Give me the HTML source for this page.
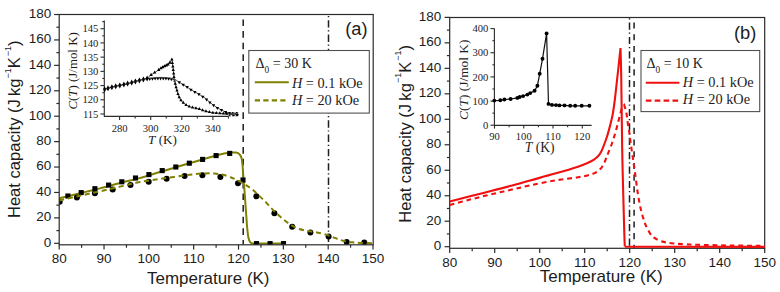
<!DOCTYPE html>
<html><head><meta charset="utf-8"><title>Heat capacity</title>
<style>html,body{margin:0;padding:0;background:#fff;overflow:hidden}svg{display:block}</style></head>
<body><svg width="780" height="292" viewBox="0 0 780 292">
<rect width="780" height="292" fill="#fff"/>
<defs><clipPath id="ca"><rect x="59.2" y="14.5" width="314" height="230.3"/></clipPath><clipPath id="cb"><rect x="449.7" y="17.5" width="315" height="230.8"/></clipPath></defs>
<line x1="243.2" y1="14.5" x2="243.2" y2="244.8" stroke="#1e1e1e" stroke-width="1.5" stroke-dasharray="6.6 5" stroke-dashoffset="6.6"/>
<line x1="328.5" y1="14.5" x2="328.5" y2="244.8" stroke="#1e1e1e" stroke-width="1.5" stroke-dasharray="7.4 2.7 1.2 3" stroke-dashoffset="8.6"/>
<g clip-path="url(#ca)">
<path d="M59.2,198.2 C62.67,197.38 73.2,194.93 80,193.3 C86.8,191.67 93.33,190.12 100,188.4 C106.67,186.68 113.58,184.67 120,183 C126.42,181.33 131.83,180.23 138.5,178.4 C145.17,176.57 153.08,174.07 160,172 C166.92,169.93 173.33,167.97 180,166 C186.67,164.03 194.25,161.87 200,160.2 C205.75,158.53 210.5,157.1 214.5,156 C218.5,154.9 221.25,154.17 224,153.6 C226.75,153.03 228.98,152.77 231,152.6 C233.02,152.43 234.68,152.32 236.1,152.6 C237.52,152.88 238.6,153.4 239.5,154.3 C240.4,155.2 240.98,156.05 241.5,158 C242.02,159.95 242.3,163 242.6,166 C242.9,169 243.02,172.33 243.3,176 C243.58,179.67 243.97,183.67 244.3,188 C244.63,192.33 244.97,197.33 245.3,202 C245.63,206.67 245.98,211.67 246.3,216 C246.62,220.33 246.85,224.42 247.2,228 C247.55,231.58 247.9,235.13 248.4,237.5 C248.9,239.87 249.52,241.22 250.2,242.2 C250.88,243.18 251.53,243.18 252.5,243.4 C253.47,243.62 250.83,243.48 256,243.5 C261.17,243.52 278.92,243.5 283.5,243.5" fill="none" stroke="#808000" stroke-width="2"/>
<rect x="65.35" y="193.45" width="5.1" height="5.1" fill="#000"/>
<rect x="78.65" y="190.05" width="5.1" height="5.1" fill="#000"/>
<rect x="92.35" y="186.15" width="5.1" height="5.1" fill="#000"/>
<rect x="106.05" y="182.55" width="5.1" height="5.1" fill="#000"/>
<rect x="119.25" y="179.25" width="5.1" height="5.1" fill="#000"/>
<rect x="132.95" y="175.45" width="5.1" height="5.1" fill="#000"/>
<rect x="146.35" y="172.05" width="5.1" height="5.1" fill="#000"/>
<rect x="159.65" y="168.05" width="5.1" height="5.1" fill="#000"/>
<rect x="173.25" y="164.45" width="5.1" height="5.1" fill="#000"/>
<rect x="186.75" y="160.65" width="5.1" height="5.1" fill="#000"/>
<rect x="200.05" y="156.85" width="5.1" height="5.1" fill="#000"/>
<rect x="213.55" y="153.05" width="5.1" height="5.1" fill="#000"/>
<rect x="227.15" y="150.85" width="5.1" height="5.1" fill="#000"/>
<rect x="240.45" y="177.45" width="5.1" height="5.1" fill="#000"/>
<rect x="253.95" y="241.05" width="5.1" height="5.1" fill="#000"/>
<rect x="267.55" y="241.05" width="5.1" height="5.1" fill="#000"/>
<rect x="280.95" y="241.05" width="5.1" height="5.1" fill="#000"/>
<circle cx="59.7" cy="201.8" r="3.0" fill="#000"/>
<circle cx="76.9" cy="197.5" r="3.0" fill="#000"/>
<circle cx="94.9" cy="193.3" r="3.0" fill="#000"/>
<circle cx="112.7" cy="189.5" r="3.0" fill="#000"/>
<circle cx="130.5" cy="185.1" r="3.0" fill="#000"/>
<circle cx="148.7" cy="181.8" r="3.0" fill="#000"/>
<circle cx="166.6" cy="178.7" r="3.0" fill="#000"/>
<circle cx="184.6" cy="176.1" r="3.0" fill="#000"/>
<circle cx="202.4" cy="175.3" r="3.0" fill="#000"/>
<circle cx="220.4" cy="177" r="3.0" fill="#000"/>
<circle cx="238" cy="183.3" r="3.0" fill="#000"/>
<circle cx="256.4" cy="196.3" r="3.0" fill="#000"/>
<circle cx="274.4" cy="213.3" r="3.0" fill="#000"/>
<circle cx="292.2" cy="226.7" r="3.0" fill="#000"/>
<circle cx="310.4" cy="232.5" r="3.0" fill="#000"/>
<circle cx="328.6" cy="236.4" r="3.0" fill="#000"/>
<circle cx="346.7" cy="241.9" r="3.0" fill="#000"/>
<circle cx="364.3" cy="242.4" r="3.0" fill="#000"/>
<path d="M59.2,200.4 C62.67,199.62 73.2,197.22 80,195.7 C86.8,194.18 93.33,192.82 100,191.3 C106.67,189.78 113.58,188.1 120,186.6 C126.42,185.1 131.43,183.63 138.5,182.3 C145.57,180.97 153.85,179.87 162.4,178.6 C170.95,177.33 182.7,175.57 189.8,174.7 C196.9,173.83 200.88,173.6 205,173.4 C209.12,173.2 211.67,173.3 214.5,173.5 C217.33,173.7 219.42,174.02 222,174.6 C224.58,175.18 227,175.83 230,177 C233,178.17 236.67,179.82 240,181.6 C243.33,183.38 247.3,185.8 250,187.7 C252.7,189.6 253.63,190.65 256.2,193 C258.77,195.35 262.5,198.87 265.4,201.8 C268.3,204.73 270.68,207.73 273.6,210.6 C276.52,213.47 279.98,216.6 282.9,219 C285.82,221.4 288.37,223.33 291.1,225 C293.83,226.67 296.52,228.02 299.3,229 C302.08,229.98 305.02,230.35 307.8,230.9 C310.58,231.45 312.97,231.68 316,232.3 C319.03,232.92 322.88,233.67 326,234.6 C329.12,235.53 331.87,236.87 334.7,237.9 C337.53,238.93 340.12,240.07 343,240.8 C345.88,241.53 349,241.95 352,242.3 C355,242.65 357.5,242.73 361,242.9 C364.5,243.07 371,243.23 373,243.3" fill="none" stroke="#808000" stroke-width="2" stroke-dasharray="5.1 3.6"/>
</g>
<g font-family="Liberation Sans, sans-serif" font-size="13.5" fill="#1c1c1c">
<rect x="59.2" y="14.5" width="314" height="230.3" fill="none" stroke="#2b2b2b" stroke-width="1.2"/>
<line x1="54.1" y1="243.3" x2="59.2" y2="243.3" stroke="#2b2b2b" stroke-width="1.2"/>
<text x="51.2" y="246.6" text-anchor="end">0</text>
<line x1="56.4" y1="230.59" x2="59.2" y2="230.59" stroke="#2b2b2b" stroke-width="1.2"/>
<line x1="54.1" y1="217.88" x2="59.2" y2="217.88" stroke="#2b2b2b" stroke-width="1.2"/>
<text x="51.2" y="221.18" text-anchor="end">20</text>
<line x1="56.4" y1="205.17" x2="59.2" y2="205.17" stroke="#2b2b2b" stroke-width="1.2"/>
<line x1="54.1" y1="192.46" x2="59.2" y2="192.46" stroke="#2b2b2b" stroke-width="1.2"/>
<text x="51.2" y="195.76" text-anchor="end">40</text>
<line x1="56.4" y1="179.75" x2="59.2" y2="179.75" stroke="#2b2b2b" stroke-width="1.2"/>
<line x1="54.1" y1="167.04" x2="59.2" y2="167.04" stroke="#2b2b2b" stroke-width="1.2"/>
<text x="51.2" y="170.34" text-anchor="end">60</text>
<line x1="56.4" y1="154.33" x2="59.2" y2="154.33" stroke="#2b2b2b" stroke-width="1.2"/>
<line x1="54.1" y1="141.62" x2="59.2" y2="141.62" stroke="#2b2b2b" stroke-width="1.2"/>
<text x="51.2" y="144.92" text-anchor="end">80</text>
<line x1="56.4" y1="128.91" x2="59.2" y2="128.91" stroke="#2b2b2b" stroke-width="1.2"/>
<line x1="54.1" y1="116.2" x2="59.2" y2="116.2" stroke="#2b2b2b" stroke-width="1.2"/>
<text x="51.2" y="119.5" text-anchor="end">100</text>
<line x1="56.4" y1="103.49" x2="59.2" y2="103.49" stroke="#2b2b2b" stroke-width="1.2"/>
<line x1="54.1" y1="90.78" x2="59.2" y2="90.78" stroke="#2b2b2b" stroke-width="1.2"/>
<text x="51.2" y="94.08" text-anchor="end">120</text>
<line x1="56.4" y1="78.07" x2="59.2" y2="78.07" stroke="#2b2b2b" stroke-width="1.2"/>
<line x1="54.1" y1="65.36" x2="59.2" y2="65.36" stroke="#2b2b2b" stroke-width="1.2"/>
<text x="51.2" y="68.66" text-anchor="end">140</text>
<line x1="56.4" y1="52.65" x2="59.2" y2="52.65" stroke="#2b2b2b" stroke-width="1.2"/>
<line x1="54.1" y1="39.94" x2="59.2" y2="39.94" stroke="#2b2b2b" stroke-width="1.2"/>
<text x="51.2" y="43.24" text-anchor="end">160</text>
<line x1="56.4" y1="27.23" x2="59.2" y2="27.23" stroke="#2b2b2b" stroke-width="1.2"/>
<line x1="54.1" y1="14.52" x2="59.2" y2="14.52" stroke="#2b2b2b" stroke-width="1.2"/>
<text x="51.2" y="17.82" text-anchor="end">180</text>
<line x1="59.2" y1="244.8" x2="59.2" y2="249.6" stroke="#2b2b2b" stroke-width="1.2"/>
<text x="59.2" y="263.4" text-anchor="middle">80</text>
<line x1="81.62" y1="244.8" x2="81.62" y2="247.7" stroke="#2b2b2b" stroke-width="1.2"/>
<line x1="104.03" y1="244.8" x2="104.03" y2="249.6" stroke="#2b2b2b" stroke-width="1.2"/>
<text x="104.03" y="263.4" text-anchor="middle">90</text>
<line x1="126.44" y1="244.8" x2="126.44" y2="247.7" stroke="#2b2b2b" stroke-width="1.2"/>
<line x1="148.86" y1="244.8" x2="148.86" y2="249.6" stroke="#2b2b2b" stroke-width="1.2"/>
<text x="148.86" y="263.4" text-anchor="middle">100</text>
<line x1="171.27" y1="244.8" x2="171.27" y2="247.7" stroke="#2b2b2b" stroke-width="1.2"/>
<line x1="193.69" y1="244.8" x2="193.69" y2="249.6" stroke="#2b2b2b" stroke-width="1.2"/>
<text x="193.69" y="263.4" text-anchor="middle">110</text>
<line x1="216.11" y1="244.8" x2="216.11" y2="247.7" stroke="#2b2b2b" stroke-width="1.2"/>
<line x1="238.52" y1="244.8" x2="238.52" y2="249.6" stroke="#2b2b2b" stroke-width="1.2"/>
<text x="238.52" y="263.4" text-anchor="middle">120</text>
<line x1="260.94" y1="244.8" x2="260.94" y2="247.7" stroke="#2b2b2b" stroke-width="1.2"/>
<line x1="283.35" y1="244.8" x2="283.35" y2="249.6" stroke="#2b2b2b" stroke-width="1.2"/>
<text x="283.35" y="263.4" text-anchor="middle">130</text>
<line x1="305.76" y1="244.8" x2="305.76" y2="247.7" stroke="#2b2b2b" stroke-width="1.2"/>
<line x1="328.18" y1="244.8" x2="328.18" y2="249.6" stroke="#2b2b2b" stroke-width="1.2"/>
<text x="328.18" y="263.4" text-anchor="middle">140</text>
<line x1="350.59" y1="244.8" x2="350.59" y2="247.7" stroke="#2b2b2b" stroke-width="1.2"/>
<line x1="373.01" y1="244.8" x2="373.01" y2="249.6" stroke="#2b2b2b" stroke-width="1.2"/>
<text x="373.01" y="263.4" text-anchor="middle">150</text>
<rect x="449.7" y="17.5" width="315" height="230.8" fill="none" stroke="#2b2b2b" stroke-width="1.2"/>
<line x1="444.6" y1="246.7" x2="449.7" y2="246.7" stroke="#2b2b2b" stroke-width="1.2"/>
<text x="441.3" y="250" text-anchor="end">0</text>
<line x1="446.9" y1="233.96" x2="449.7" y2="233.96" stroke="#2b2b2b" stroke-width="1.2"/>
<line x1="444.6" y1="221.22" x2="449.7" y2="221.22" stroke="#2b2b2b" stroke-width="1.2"/>
<text x="441.3" y="224.52" text-anchor="end">20</text>
<line x1="446.9" y1="208.48" x2="449.7" y2="208.48" stroke="#2b2b2b" stroke-width="1.2"/>
<line x1="444.6" y1="195.74" x2="449.7" y2="195.74" stroke="#2b2b2b" stroke-width="1.2"/>
<text x="441.3" y="199.04" text-anchor="end">40</text>
<line x1="446.9" y1="183" x2="449.7" y2="183" stroke="#2b2b2b" stroke-width="1.2"/>
<line x1="444.6" y1="170.26" x2="449.7" y2="170.26" stroke="#2b2b2b" stroke-width="1.2"/>
<text x="441.3" y="173.56" text-anchor="end">60</text>
<line x1="446.9" y1="157.52" x2="449.7" y2="157.52" stroke="#2b2b2b" stroke-width="1.2"/>
<line x1="444.6" y1="144.78" x2="449.7" y2="144.78" stroke="#2b2b2b" stroke-width="1.2"/>
<text x="441.3" y="148.08" text-anchor="end">80</text>
<line x1="446.9" y1="132.04" x2="449.7" y2="132.04" stroke="#2b2b2b" stroke-width="1.2"/>
<line x1="444.6" y1="119.3" x2="449.7" y2="119.3" stroke="#2b2b2b" stroke-width="1.2"/>
<text x="441.3" y="122.6" text-anchor="end">100</text>
<line x1="446.9" y1="106.56" x2="449.7" y2="106.56" stroke="#2b2b2b" stroke-width="1.2"/>
<line x1="444.6" y1="93.82" x2="449.7" y2="93.82" stroke="#2b2b2b" stroke-width="1.2"/>
<text x="441.3" y="97.12" text-anchor="end">120</text>
<line x1="446.9" y1="81.08" x2="449.7" y2="81.08" stroke="#2b2b2b" stroke-width="1.2"/>
<line x1="444.6" y1="68.34" x2="449.7" y2="68.34" stroke="#2b2b2b" stroke-width="1.2"/>
<text x="441.3" y="71.64" text-anchor="end">140</text>
<line x1="446.9" y1="55.6" x2="449.7" y2="55.6" stroke="#2b2b2b" stroke-width="1.2"/>
<line x1="444.6" y1="42.86" x2="449.7" y2="42.86" stroke="#2b2b2b" stroke-width="1.2"/>
<text x="441.3" y="46.16" text-anchor="end">160</text>
<line x1="446.9" y1="30.12" x2="449.7" y2="30.12" stroke="#2b2b2b" stroke-width="1.2"/>
<line x1="444.6" y1="17.38" x2="449.7" y2="17.38" stroke="#2b2b2b" stroke-width="1.2"/>
<text x="441.3" y="20.68" text-anchor="end">180</text>
<line x1="449.7" y1="248.3" x2="449.7" y2="253.1" stroke="#2b2b2b" stroke-width="1.2"/>
<text x="449.7" y="266.8" text-anchor="middle">80</text>
<line x1="472.2" y1="248.3" x2="472.2" y2="251.2" stroke="#2b2b2b" stroke-width="1.2"/>
<line x1="494.7" y1="248.3" x2="494.7" y2="253.1" stroke="#2b2b2b" stroke-width="1.2"/>
<text x="494.7" y="266.8" text-anchor="middle">90</text>
<line x1="517.2" y1="248.3" x2="517.2" y2="251.2" stroke="#2b2b2b" stroke-width="1.2"/>
<line x1="539.7" y1="248.3" x2="539.7" y2="253.1" stroke="#2b2b2b" stroke-width="1.2"/>
<text x="539.7" y="266.8" text-anchor="middle">100</text>
<line x1="562.2" y1="248.3" x2="562.2" y2="251.2" stroke="#2b2b2b" stroke-width="1.2"/>
<line x1="584.7" y1="248.3" x2="584.7" y2="253.1" stroke="#2b2b2b" stroke-width="1.2"/>
<text x="584.7" y="266.8" text-anchor="middle">110</text>
<line x1="607.2" y1="248.3" x2="607.2" y2="251.2" stroke="#2b2b2b" stroke-width="1.2"/>
<line x1="629.7" y1="248.3" x2="629.7" y2="253.1" stroke="#2b2b2b" stroke-width="1.2"/>
<text x="629.7" y="266.8" text-anchor="middle">120</text>
<line x1="652.2" y1="248.3" x2="652.2" y2="251.2" stroke="#2b2b2b" stroke-width="1.2"/>
<line x1="674.7" y1="248.3" x2="674.7" y2="253.1" stroke="#2b2b2b" stroke-width="1.2"/>
<text x="674.7" y="266.8" text-anchor="middle">130</text>
<line x1="697.2" y1="248.3" x2="697.2" y2="251.2" stroke="#2b2b2b" stroke-width="1.2"/>
<line x1="719.7" y1="248.3" x2="719.7" y2="253.1" stroke="#2b2b2b" stroke-width="1.2"/>
<text x="719.7" y="266.8" text-anchor="middle">140</text>
<line x1="742.2" y1="248.3" x2="742.2" y2="251.2" stroke="#2b2b2b" stroke-width="1.2"/>
<line x1="764.7" y1="248.3" x2="764.7" y2="253.1" stroke="#2b2b2b" stroke-width="1.2"/>
<text x="764.7" y="266.8" text-anchor="middle">150</text>
</g>
<g font-family="Liberation Sans, sans-serif" font-size="16.6" fill="#1c1c1c">
<text x="147" y="283.9" textLength="122.5" lengthAdjust="spacingAndGlyphs">Temperature (K)</text>
<text x="539.7" y="282.1" textLength="123" lengthAdjust="spacingAndGlyphs">Temperature (K)</text>
<text transform="translate(19.9,218.1) rotate(-90)" x="0" y="0">Heat capacity (J <tspan dx="-1.4">kg</tspan><tspan font-size="9" dy="-9.2">−1</tspan><tspan dy="9.2">K</tspan><tspan font-size="9" dx="0.9" dy="-9.2">−1</tspan><tspan dy="9.2">)</tspan></text>
<text transform="translate(410.5,222.8) rotate(-90)" x="0" y="0">Heat capacity (J <tspan dx="-1.4">kg</tspan><tspan font-size="9" dy="-9.2">−1</tspan><tspan dy="9.2">K</tspan><tspan font-size="9" dx="0.9" dy="-9.2">−1</tspan><tspan dy="9.2">)</tspan></text>
</g>
<text x="345.2" y="34.8" font-family="Liberation Sans, sans-serif" font-size="18.3" fill="#1c1c1c">(a)</text>
<text x="734" y="39.2" font-family="Liberation Sans, sans-serif" font-size="18.3" fill="#1c1c1c">(b)</text>
<line x1="629.5" y1="17.5" x2="629.5" y2="248.3" stroke="#1e1e1e" stroke-width="1.5" stroke-dasharray="7.2 2.9 1.2 3.1" stroke-dashoffset="9.4"/>
<line x1="634.1" y1="17.5" x2="634.1" y2="248.3" stroke="#1e1e1e" stroke-width="1.5" stroke-dasharray="6.1 5.6" stroke-dashoffset="6.7"/>
<g clip-path="url(#cb)">
<path d="M449.7,201.6 C453.08,200.72 463.28,198.02 470,196.3 C476.72,194.58 483.33,193 490,191.3 C496.67,189.6 503.33,187.9 510,186.1 C516.67,184.3 522.5,182.58 530,180.5 C537.5,178.42 547,175.9 555,173.6 C563,171.3 572.5,168.5 578,166.7 C583.5,164.9 585.33,163.98 588,162.8 C590.67,161.62 592.33,160.68 594,159.6 C595.67,158.52 596.9,157.43 598,156.3 C599.1,155.17 599.75,154.3 600.6,152.8 C601.45,151.3 602,150.1 603.1,147.3 C604.2,144.5 606,139.77 607.2,136 C608.4,132.23 609.38,128.3 610.3,124.7 C611.22,121.1 611.95,118.52 612.7,114.4 C613.45,110.28 613.98,106.57 614.8,100 C615.62,93.43 616.65,83.65 617.6,75 C618.55,66.35 620.02,52.58 620.5,48.1 C620.62,52.58 620.98,63.02 621.2,75 C621.42,86.98 621.6,105.83 621.8,120 C622,134.17 622.13,146.67 622.4,160 C622.67,173.33 623.07,187.33 623.4,200 C623.73,212.67 624.17,228.25 624.4,236 C624.63,243.75 624.73,244.75 624.8,246.5" fill="none" stroke="#f01010" stroke-width="2.1" stroke-miterlimit="10"/>
<path d="M624.8,246.7 L764.8,246.9" fill="none" stroke="#f01010" stroke-width="2.1"/>
<path d="M449.7,205 C453.08,204.1 463.28,201.33 470,199.6 C476.72,197.87 483.33,196.2 490,194.6 C496.67,193 503.33,191.53 510,190 C516.67,188.47 522.5,187 530,185.4 C537.5,183.8 547,181.75 555,180.4 C563,179.05 572.5,178.15 578,177.3 C583.5,176.45 585.33,175.95 588,175.3 C590.67,174.65 592.17,174.25 594,173.4 C595.83,172.55 597.58,171.4 599,170.2 C600.42,169 601.42,167.9 602.5,166.2 C603.58,164.5 604.58,162.12 605.5,160 C606.42,157.88 606.87,156.42 608,153.5 C609.13,150.58 611.07,146 612.3,142.5 C613.53,139 614.43,135.82 615.4,132.5 C616.37,129.18 617.25,125.85 618.1,122.6 C618.95,119.35 619.78,115.57 620.5,113 C621.22,110.43 621.78,108.52 622.4,107.2 C623.02,105.88 623.9,105.45 624.2,105.1 C624.55,106.3 625.72,109.38 626.3,112.3 C626.88,115.22 627.18,119.17 627.7,122.6 C628.22,126.03 628.95,129.82 629.4,132.9 C629.85,135.98 629.88,137.33 630.4,141.1 C630.92,144.87 631.75,150.35 632.5,155.5 C633.25,160.65 634.05,165.92 634.9,172 C635.75,178.08 636.68,186.08 637.6,192 C638.52,197.92 639.45,203.12 640.4,207.5 C641.35,211.88 642.37,215.25 643.3,218.3 C644.23,221.35 644.7,223 646,225.8 C647.3,228.6 649.43,232.93 651.1,235.1 C652.77,237.27 654.28,237.78 656,238.8 C657.72,239.82 659.4,240.53 661.4,241.2 C663.4,241.87 665.62,242.38 668,242.8 C670.38,243.22 672.7,243.45 675.7,243.7 C678.7,243.95 682.23,244.12 686,244.3 C689.77,244.48 690.97,244.6 698.3,244.8 C705.63,245 718.92,245.32 730,245.5 C741.08,245.68 759,245.83 764.8,245.9" fill="none" stroke="#f01010" stroke-width="2.1" stroke-dasharray="4.8 3.8"/>
</g>
<g stroke="#2b2b2b" stroke-width="1.1" fill="none">
<path d="M104.3,20.4 V116.4 H228.45"/>
<line x1="100.5" y1="114" x2="104.3" y2="114"/>
<line x1="102.3" y1="106.89" x2="104.3" y2="106.89"/>
<line x1="100.5" y1="99.78" x2="104.3" y2="99.78"/>
<line x1="102.3" y1="92.68" x2="104.3" y2="92.68"/>
<line x1="100.5" y1="85.57" x2="104.3" y2="85.57"/>
<line x1="102.3" y1="78.46" x2="104.3" y2="78.46"/>
<line x1="100.5" y1="71.36" x2="104.3" y2="71.36"/>
<line x1="102.3" y1="64.25" x2="104.3" y2="64.25"/>
<line x1="100.5" y1="57.14" x2="104.3" y2="57.14"/>
<line x1="102.3" y1="50.03" x2="104.3" y2="50.03"/>
<line x1="100.5" y1="42.92" x2="104.3" y2="42.92"/>
<line x1="102.3" y1="35.82" x2="104.3" y2="35.82"/>
<line x1="100.5" y1="28.71" x2="104.3" y2="28.71"/>
<line x1="102.3" y1="21.6" x2="104.3" y2="21.6"/>
<line x1="119.6" y1="116.4" x2="119.6" y2="120"/>
<line x1="135.15" y1="116.4" x2="135.15" y2="118.4"/>
<line x1="150.7" y1="116.4" x2="150.7" y2="120"/>
<line x1="166.25" y1="116.4" x2="166.25" y2="118.4"/>
<line x1="181.8" y1="116.4" x2="181.8" y2="120"/>
<line x1="197.35" y1="116.4" x2="197.35" y2="118.4"/>
<line x1="212.9" y1="116.4" x2="212.9" y2="120"/>
<line x1="228.45" y1="116.4" x2="228.45" y2="118.4"/>
</g>
<g font-family="Liberation Serif, serif" font-size="10.6" fill="#1c1c1c">
<text x="98.4" y="117.6" text-anchor="end">115</text>
<text x="98.4" y="103.38" text-anchor="end">120</text>
<text x="98.4" y="89.17" text-anchor="end">125</text>
<text x="98.4" y="74.95" text-anchor="end">130</text>
<text x="98.4" y="60.74" text-anchor="end">135</text>
<text x="98.4" y="46.52" text-anchor="end">140</text>
<text x="98.4" y="32.31" text-anchor="end">145</text>
<text x="119.6" y="131.6" text-anchor="middle">280</text>
<text x="150.7" y="131.6" text-anchor="middle">300</text>
<text x="181.8" y="131.6" text-anchor="middle">320</text>
<text x="212.9" y="131.6" text-anchor="middle">340</text>
</g>
<g font-family="Liberation Serif, serif" font-size="12.8" fill="#1c1c1c">
<text x="148" y="144" font-size="13.2"><tspan font-style="italic">T</tspan> (K)</text>
<text transform="translate(77.4,109.6) rotate(-90)" font-size="12.9"><tspan font-style="italic">C</tspan>(<tspan font-style="italic">T</tspan>) (J/mol K)</text>
</g>
<path d="M104.6,89.3 L108,88.3 L111.9,87.2 L115.7,86.3 L119.8,85.4 L123.9,84.5 L127.6,83.6 L131.7,82.6 L135.4,81.4 L139.4,80.4 L143.4,79.4 L147.1,78.5 L151.1,74.9 L154.7,72.6 L158.7,69.9 L160.9,68.3 L162.7,67.3 L164.5,66.3 L166.3,65.4 L168,64.5 L169.8,62.7 L171.9,59.6 L172.8,66 L173.6,73 L174.3,80 L176.2,87.8 L178.2,95 L180.2,99.3 L182.3,102 L186.4,105.2 L190,106.9 L194,107.8 L198.8,108.9 L203,110.5 L208.7,112 L213,112.7 L218.3,113.1 L222,113.5 L226.5,113.8 L230,114 L234,114 L238.3,114.2" fill="none" stroke="#222" stroke-width="0.75"/>
<path d="M104.6,89.3 L108,88.3 L111.9,87.2 L115.7,86.3 L119.8,85.4 L123.9,84.5 L127.6,83.6 L131.7,82.6 L135.4,81.4 L139.4,80.4 L143.4,79.4 L147.1,78.5 L150,78 L155,77.6 L160,77.4 L165,77.5 L170,77.9 L173,78.6 L175.5,79.6 L178.2,81.6 L182,83.9 L186.4,86.5 L190,89 L194.7,91.9 L198,93.6 L202,96.1 L205.8,98.6 L209.5,102.1 L213.5,105.2 L217.4,107.8 L221.4,110 L225.1,111.8 L229.2,113.3 L233.4,114 L238.3,114.3" fill="none" stroke="#222" stroke-width="0.75"/>
<path d="M103,89.2 L106.2,89.2 L104.6,86.3ZM103,89.4 L106.2,89.4 L104.6,92.3ZM106.4,88.2 L109.6,88.2 L108,85.3ZM106.4,88.4 L109.6,88.4 L108,91.3ZM110.3,87.1 L113.5,87.1 L111.9,84.2ZM110.3,87.3 L113.5,87.3 L111.9,90.2ZM114.1,86.2 L117.3,86.2 L115.7,83.3ZM114.1,86.4 L117.3,86.4 L115.7,89.3ZM118.2,85.3 L121.4,85.3 L119.8,82.4ZM118.2,85.5 L121.4,85.5 L119.8,88.4ZM122.3,84.4 L125.5,84.4 L123.9,81.5ZM122.3,84.6 L125.5,84.6 L123.9,87.5ZM126,83.5 L129.2,83.5 L127.6,80.6ZM126,83.7 L129.2,83.7 L127.6,86.6ZM130.1,82.5 L133.3,82.5 L131.7,79.6ZM130.1,82.7 L133.3,82.7 L131.7,85.6ZM133.8,81.3 L137,81.3 L135.4,78.4ZM133.8,81.5 L137,81.5 L135.4,84.4ZM137.8,80.3 L141,80.3 L139.4,77.4ZM137.8,80.5 L141,80.5 L139.4,83.4ZM141.8,79.3 L145,79.3 L143.4,76.4ZM141.8,79.5 L145,79.5 L143.4,82.4ZM145.5,78.4 L148.7,78.4 L147.1,75.5ZM145.5,78.6 L148.7,78.6 L147.1,81.5ZM149.4,75.9 L152.8,75.9 L151.1,72.8ZM153,73.6 L156.4,73.6 L154.7,70.5ZM157,70.9 L160.4,70.9 L158.7,67.8ZM159.2,69.3 L162.6,69.3 L160.9,66.2ZM161,68.3 L164.4,68.3 L162.7,65.2ZM162.8,67.3 L166.2,67.3 L164.5,64.2ZM164.6,66.4 L168,66.4 L166.3,63.3ZM166.3,65.5 L169.7,65.5 L168,62.4ZM168.1,63.7 L171.5,63.7 L169.8,60.6ZM170.2,60.6 L173.6,60.6 L171.9,57.5ZM170.74,64.07 L174.04,64.07 L172.39,61.07ZM171.21,67.53 L174.51,67.53 L172.86,64.53ZM171.61,71.01 L174.91,71.01 L173.26,68.01ZM172,74.49 L175.3,74.49 L173.65,71.49ZM172.35,77.97 L175.65,77.97 L174,74.97ZM172.76,81.44 L176.06,81.44 L174.41,78.44ZM173.59,84.84 L176.89,84.84 L175.24,81.84ZM174.41,88.24 L177.71,88.24 L176.06,85.24ZM175.33,91.62 L178.63,91.62 L176.98,88.62ZM176.27,94.99 L179.57,94.99 L177.92,91.99ZM177.59,98.23 L180.89,98.23 L179.24,95.23ZM179.3,101.26 L182.6,101.26 L180.95,98.26ZM181.67,103.8 L184.97,103.8 L183.32,100.8ZM184.43,105.95 L187.73,105.95 L186.08,102.95ZM187.55,107.52 L190.85,107.52 L189.2,104.52ZM190.9,108.47 L194.2,108.47 L192.55,105.47ZM194.31,109.25 L197.61,109.25 L195.96,106.25ZM197.7,110.11 L201,110.11 L199.35,107.11ZM200.97,111.35 L204.27,111.35 L202.62,108.35ZM204.34,112.29 L207.64,112.29 L205.99,109.29ZM207.74,113.11 L211.04,113.11 L209.39,110.11ZM211.19,113.67 L214.49,113.67 L212.84,110.67ZM214.68,113.95 L217.98,113.95 L216.33,110.95ZM218.17,114.26 L221.47,114.26 L219.82,111.26ZM221.65,114.59 L224.95,114.59 L223.3,111.59ZM225.14,114.82 L228.44,114.82 L226.79,111.82ZM228.64,115 L231.94,115 L230.29,112ZM232.14,115 L235.44,115 L233.79,112ZM235.64,115.15 L238.94,115.15 L237.29,112.15ZM148.26,78.24 L151.26,78.24 L149.76,81.04ZM150.95,78 L153.95,78 L152.45,80.8ZM153.64,77.79 L156.64,77.79 L155.14,80.59ZM156.34,77.69 L159.34,77.69 L157.84,80.49ZM159.04,77.61 L162.04,77.61 L160.54,80.41ZM161.74,77.66 L164.74,77.66 L163.24,80.46ZM164.43,77.77 L167.43,77.77 L165.93,80.57ZM167.12,77.99 L170.12,77.99 L168.62,80.79ZM169.79,78.4 L172.79,78.4 L171.29,81.2ZM172.37,79.15 L175.37,79.15 L173.87,81.95ZM177.56,81.34 L180.96,81.34 L179.26,84.34ZM181.5,83.71 L184.9,83.71 L183.2,86.71ZM185.43,86.11 L188.83,86.11 L187.13,89.11ZM189.24,88.68 L192.64,88.68 L190.94,91.68ZM193.16,91.08 L196.56,91.08 L194.86,94.08ZM197.21,93.27 L200.61,93.27 L198.91,96.27ZM201.1,95.72 L204.5,95.72 L202.8,98.72ZM204.83,98.39 L208.23,98.39 L206.53,101.39ZM208.2,101.51 L211.6,101.51 L209.9,104.51ZM211.84,104.33 L215.24,104.33 L213.54,107.33ZM215.67,106.88 L219.07,106.88 L217.37,109.88ZM219.7,109.1 L223.1,109.1 L221.4,112.1ZM223.85,111.07 L227.25,111.07 L225.55,114.07ZM228.21,112.52 L231.61,112.52 L229.91,115.52ZM232.76,113.16 L236.16,113.16 L234.46,116.16ZM228.05,112.1 L231.15,112.1 L229.6,114.25ZM228.05,116.3 L231.15,116.3 L229.6,114.15ZM231.65,112.1 L234.75,112.1 L233.2,114.25ZM231.65,116.3 L234.75,116.3 L233.2,114.15ZM235.35,112.1 L238.45,112.1 L236.9,114.25ZM235.35,116.3 L238.45,116.3 L236.9,114.15Z" fill="#000"/>
<g stroke="#2b2b2b" stroke-width="1.1" fill="none">
<path d="M494.4,28.6 V125.4 H591.61"/>
<line x1="490.5" y1="125.2" x2="494.4" y2="125.2"/>
<line x1="492.4" y1="113.12" x2="494.4" y2="113.12"/>
<line x1="490.5" y1="101.05" x2="494.4" y2="101.05"/>
<line x1="492.4" y1="88.97" x2="494.4" y2="88.97"/>
<line x1="490.5" y1="76.9" x2="494.4" y2="76.9"/>
<line x1="492.4" y1="64.83" x2="494.4" y2="64.83"/>
<line x1="490.5" y1="52.75" x2="494.4" y2="52.75"/>
<line x1="492.4" y1="40.68" x2="494.4" y2="40.68"/>
<line x1="490.5" y1="28.6" x2="494.4" y2="28.6"/>
<line x1="494.5" y1="125.4" x2="494.5" y2="128.6"/>
<line x1="509.12" y1="125.4" x2="509.12" y2="127.2"/>
<line x1="523.75" y1="125.4" x2="523.75" y2="128.6"/>
<line x1="538.38" y1="125.4" x2="538.38" y2="127.2"/>
<line x1="553" y1="125.4" x2="553" y2="128.6"/>
<line x1="567.62" y1="125.4" x2="567.62" y2="127.2"/>
<line x1="582.25" y1="125.4" x2="582.25" y2="128.6"/>
</g>
<g font-family="Liberation Serif, serif" font-size="10.6" fill="#1c1c1c">
<text x="488.3" y="128.8" text-anchor="end">0</text>
<text x="488.3" y="104.65" text-anchor="end">100</text>
<text x="488.3" y="80.5" text-anchor="end">200</text>
<text x="488.3" y="56.35" text-anchor="end">300</text>
<text x="488.3" y="32.2" text-anchor="end">400</text>
<text x="494.5" y="139.7" text-anchor="middle">90</text>
<text x="523.75" y="139.7" text-anchor="middle">100</text>
<text x="553" y="139.7" text-anchor="middle">110</text>
<text x="582.25" y="139.7" text-anchor="middle">120</text>
</g>
<g font-family="Liberation Serif, serif" font-size="12.8" fill="#1c1c1c">
<text x="524.8" y="152.3" font-size="13.6"><tspan font-style="italic">T</tspan> (K)</text>
<text transform="translate(468.3,119.9) rotate(-90)" font-size="13.4"><tspan font-style="italic">C</tspan>(<tspan font-style="italic">T</tspan>) (J/mol K)</text>
</g>
<path d="M494.3,100.6 L500.3,100.3 L504.4,99.5 L510.6,99 L517.3,97.9 L519.7,97 L523.1,96.1 L527.4,94.6 L530.2,93.1 L534.6,90.7 L537.4,85.7 L539.7,73.8 L542.5,58.8 L546.6,33.4 L548.5,103.9 L552,104.9 L556,105.1 L559.4,105.4 L564.5,105.4 L570.2,105.8 L575.2,105.8 L581.7,105.8 L589.4,105.8" fill="none" stroke="#111" stroke-width="1.2"/>
<circle cx="494.3" cy="100.6" r="1.95" fill="#000"/>
<circle cx="500.3" cy="100.3" r="1.95" fill="#000"/>
<circle cx="504.4" cy="99.5" r="1.95" fill="#000"/>
<circle cx="510.6" cy="99" r="1.95" fill="#000"/>
<circle cx="517.3" cy="97.9" r="1.95" fill="#000"/>
<circle cx="519.7" cy="97" r="1.95" fill="#000"/>
<circle cx="523.1" cy="96.1" r="1.95" fill="#000"/>
<circle cx="527.4" cy="94.6" r="1.95" fill="#000"/>
<circle cx="530.2" cy="93.1" r="1.95" fill="#000"/>
<circle cx="534.6" cy="90.7" r="1.95" fill="#000"/>
<circle cx="537.4" cy="85.7" r="1.95" fill="#000"/>
<circle cx="539.7" cy="73.8" r="1.95" fill="#000"/>
<circle cx="542.5" cy="58.8" r="1.95" fill="#000"/>
<circle cx="546.6" cy="33.4" r="1.95" fill="#000"/>
<circle cx="548.5" cy="103.9" r="1.95" fill="#000"/>
<circle cx="552" cy="104.9" r="1.95" fill="#000"/>
<circle cx="556" cy="105.1" r="1.95" fill="#000"/>
<circle cx="559.4" cy="105.4" r="1.95" fill="#000"/>
<circle cx="564.5" cy="105.4" r="1.95" fill="#000"/>
<circle cx="570.2" cy="105.8" r="1.95" fill="#000"/>
<circle cx="575.2" cy="105.8" r="1.95" fill="#000"/>
<circle cx="581.7" cy="105.8" r="1.95" fill="#000"/>
<circle cx="589.4" cy="105.8" r="1.95" fill="#000"/>
<rect x="248.8" y="50.5" width="120.5" height="62.6" fill="#fff" stroke="#505050" stroke-width="1.1"/>
<g font-family="Liberation Serif, serif" font-size="14.3" fill="#1c1c1c">
<text x="255.6" y="67.7" font-size="14">Δ<tspan font-size="9.3" dy="5.6">0</tspan><tspan dy="-5.6"> = 30 K</tspan></text>
<text x="291.9" y="87.5"><tspan font-style="italic">H</tspan> = 0.1 kOe</text>
<text x="291.9" y="104.6"><tspan font-style="italic">H</tspan> = 20 kOe</text>
</g>
<line x1="254.8" y1="82.3" x2="288.8" y2="82.3" stroke="#808000" stroke-width="2"/>
<line x1="254.8" y1="100.4" x2="285.5" y2="100.4" stroke="#808000" stroke-width="2.1" stroke-dasharray="5.2 3.3"/>
<rect x="641" y="50.5" width="118.7" height="61.1" fill="#fff" stroke="#505050" stroke-width="1.1"/>
<g font-family="Liberation Serif, serif" font-size="14.3" fill="#1c1c1c">
<text x="646.6" y="67.5" font-size="14">Δ<tspan font-size="9.3" dy="5.6">0</tspan><tspan dy="-5.6"> = 10 K</tspan></text>
<text x="682.8" y="87"><tspan font-style="italic">H</tspan> = 0.1 kOe</text>
<text x="682.8" y="104.4"><tspan font-style="italic">H</tspan> = 20 kOe</text>
</g>
<line x1="645.8" y1="82.7" x2="679.4" y2="82.7" stroke="#f01010" stroke-width="2"/>
<line x1="645.8" y1="100.6" x2="678.1" y2="100.6" stroke="#f01010" stroke-width="2.1" stroke-dasharray="5.6 3.3"/>
</svg></body></html>
